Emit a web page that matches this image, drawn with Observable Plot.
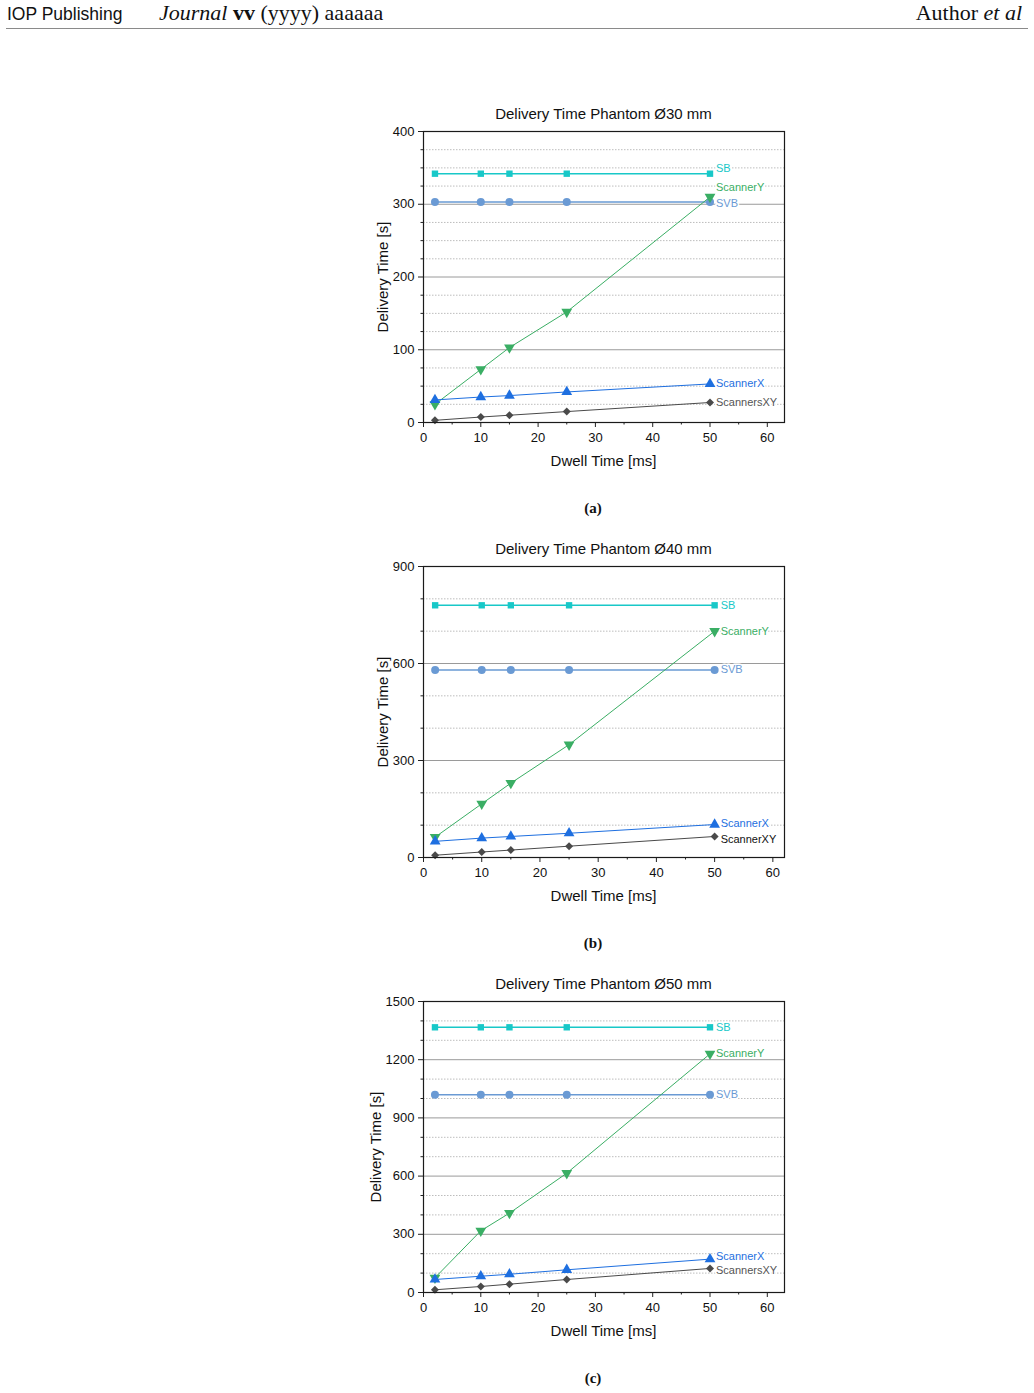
<!DOCTYPE html>
<html>
<head>
<meta charset="utf-8">
<script src="https://cdn.jsdelivr.net/npm/d3@7"></script>
<script src="https://cdn.jsdelivr.net/npm/@observablehq/plot@0.6"></script>
<style>
  html, body { margin: 0; padding: 0; background: #fff; }
  body { position: relative; width: 1034px; height: 1393px; overflow: hidden; font-family: "Liberation Sans", Arial, sans-serif; }
  .abs { position: absolute; white-space: nowrap; }
  .hdr-sans { font-family: "Liberation Sans", Arial, sans-serif; font-size: 17.5px; color: #111; }
  .hdr-serif { font-family: "Liberation Serif", "DejaVu Serif", serif; font-size: 22px; color: #111; }
  .rule { position: absolute; left: 6px; top: 28px; width: 1022px; height: 0; border-top: 1px solid #8a8a8a; }
  .title { font-size: 15px; color: #111; transform: translate(-50%, -50%); }
  .xlabel { font-size: 15px; color: #111; transform: translate(-50%, -50%); }
  .ylabel { font-size: 15px; color: #111; transform: translate(-50%, -50%) rotate(-90deg); }
  .caption { font-family: "Liberation Serif", "DejaVu Serif", serif; font-weight: bold; font-size: 15px; color: #111; transform: translate(-50%, -50%); }
  .chart { position: absolute; left: 360px; }
</style>
</head>
<body>
<div class="abs hdr-sans" style="left:7px; top:4px;">IOP Publishing</div>
<div class="abs hdr-serif" style="left:159px; top:0px;"><i>Journal</i> <b>vv</b> (yyyy) aaaaaa</div>
<div class="abs hdr-serif" style="right:12px; top:0px;">Author <i>et al</i></div>
<div class="rule"></div>
<script>
// Dwell times shared by all three phantoms [ms]
const dwell = [2, 10, 15, 25, 50];

// Phantom Ø30 mm, delivery times [s]
const sb30 = [342, 342, 342, 342, 342];
const svb30 = [303, 303, 303, 303, 303];
const scannerY30 = [25, 73, 103, 152, 310];
const scannerX30 = [31, 35, 37, 42, 53];
const scannersXY30 = [3, 7.5, 10, 15, 27.5];

// Phantom Ø40 mm, delivery times [s]
const sb40 = [780, 780, 780, 780, 780];
const svb40 = [580, 580, 580, 580, 580];
const scannerY40 = [63, 166, 230, 349, 700];
const scannerX40 = [50, 60, 65, 75, 102];
const scannerXY40 = [7, 17, 23, 35, 65];

// Phantom Ø50 mm, delivery times [s]
const sb50 = [1367, 1367, 1367, 1367, 1367];
const svb50 = [1019, 1019, 1019, 1019, 1019];
const scannerY50 = [76, 318, 409, 615, 1230];
const scannerX50 = [67, 84, 94, 117, 172];
const scannersXY50 = [14, 31, 43, 67, 124];

// Series names and axis texts
const names30 = ["SB", "SVB", "ScannerY", "ScannerX", "ScannersXY"];
const names40 = ["SB", "SVB", "ScannerY", "ScannerX", "ScannerXY"];
const names50 = ["SB", "SVB", "ScannerY", "ScannerX", "ScannersXY"];
const titles = ["Delivery Time Phantom Ø30 mm", "Delivery Time Phantom Ø40 mm", "Delivery Time Phantom Ø50 mm"];
const captions = ["(a)", "(b)", "(c)"];
const xLabel = "Dwell Time [ms]";
const yLabel = "Delivery Time [s]";
const xTicks = [0, 10, 20, 30, 40, 50, 60];
const xMinor = [5, 15, 25, 35, 45, 55];
const yTicks30 = [0, 100, 200, 300, 400];
const yTicks40 = [0, 300, 600, 900];
const yTicks50 = [0, 300, 600, 900, 1200, 1500];

// Downward-pointing triangle for the ScannerY markers
const sqrt3 = Math.sqrt(3);
const triangleDown = {
  draw(context, size) {
    const y = -Math.sqrt(size / (sqrt3 * 3));
    context.moveTo(0, -y * 2);
    context.lineTo(-sqrt3 * y, y);
    context.lineTo(sqrt3 * y, y);
    context.closePath();
  }
};

// Per-series style: colour, marker, marker radius, line width
const styles = [
  {color: "#18c8c8", symbol: "square", r: 3.6, width: 1.4, text: "#18c8c8"},
  {color: "#6a9ad4", symbol: "circle", r: 4, width: 1.4, text: "#6a9ad4"},
  {color: "#3aae64", symbol: triangleDown, r: 4, width: 1, text: "#3aae64"},
  {color: "#1e6fe0", symbol: "triangle", r: 4, width: 1, text: "#1e6fe0"},
  {color: "#4a4a4a", symbol: "diamond2", r: 3.6, width: 1, text: "#555"}
];

const charts = [
  {top: 100, xMax: 63, yMax: 400, yTicks: yTicks30, minorStep: 25, names: names30,
   series: [sb30, svb30, scannerY30, scannerX30, scannersXY30],
   labelDy: [-5, 1, -10, 0, 0], xyText: "#555"},
  {top: 535, xMax: 62, yMax: 900, yTicks: yTicks40, minorStep: 100, names: names40,
   series: [sb40, svb40, scannerY40, scannerX40, scannerXY40],
   labelDy: [0, 0, 0, -1, 3], xyText: "#111"},
  {top: 970, xMax: 63, yMax: 1500, yTicks: yTicks50, minorStep: 100, names: names50,
   series: [sb50, svb50, scannerY50, scannerX50, scannersXY50],
   labelDy: [0, 0, 0, -3, 2], xyText: "#555"}
];

const W = 440, H = 380, ML = 63, MR = 16, MT = 31, MB = 58;

charts.forEach((c, i) => {
  const yMinor = d3.range(c.minorStep, c.yMax, c.minorStep).filter(v => !c.yTicks.includes(v));
  const yGridMajor = c.yTicks.filter(v => v > 0 && v < c.yMax);

  const marks = [
    Plot.ruleY(yMinor, {stroke: "#bdbdbd", strokeWidth: 1, strokeDasharray: "1.5,1.5"}),
    Plot.ruleY(yGridMajor, {stroke: "#9a9a9a", strokeWidth: 1})
  ];

  c.series.forEach((values, k) => {
    const s = styles[k];
    const rows = dwell.map((x, j) => ({x, y: values[j]}));
    marks.push(Plot.line(rows, {x: "x", y: "y", stroke: s.color, strokeWidth: s.width}));
    marks.push(Plot.dot(rows, {x: "x", y: "y", symbol: s.symbol, r: s.r, fill: s.color, stroke: "none"}));
    const last = rows[rows.length - 1];
    marks.push(Plot.text([last], {
      x: "x", y: "y", text: () => c.names[k], dx: 6, dy: c.labelDy[k],
      textAnchor: "start", fontSize: 11, fill: k === 4 ? c.xyText : s.text,
      stroke: "white", strokeWidth: 3, paintOrder: "stroke"
    }));
  });

  marks.push(
    Plot.axisX({ticks: xTicks, tickSize: 5, tickPadding: 5, fontSize: 13, tickFormat: d => String(d), label: null, stroke: "#222", color: "#111"}),
    Plot.axisX({ticks: xMinor, tickSize: 2.5, tickFormat: () => "", label: null, stroke: "#222"}),
    Plot.axisY({ticks: c.yTicks, tickSize: 5, tickPadding: 4, fontSize: 13, tickFormat: d => String(d), label: null, stroke: "#222", color: "#111"}),
    Plot.axisY({ticks: yMinor, tickSize: 2.5, tickFormat: () => "", label: null, stroke: "#222"}),
    Plot.frame({stroke: "#1a1a1a", strokeWidth: 1.2})
  );

  const svg = Plot.plot({
    width: W, height: H,
    marginLeft: ML, marginRight: MR, marginTop: MT, marginBottom: MB,
    style: {fontFamily: "'Liberation Sans', Arial, sans-serif", background: "white", overflow: "visible"},
    x: {domain: [0, c.xMax]},
    y: {domain: [0, c.yMax]},
    marks
  });
  svg.classList.add("chart");
  svg.style.top = c.top + "px";
  document.body.appendChild(svg);

  const frameTop = c.top + MT, frameBottom = c.top + H - MB;
  const cx = 360 + ML + (W - ML - MR) / 2;
  const add = (cls, text, x, y) => {
    const d = document.createElement("div");
    d.className = "abs " + cls;
    d.textContent = text;
    d.style.left = x + "px";
    d.style.top = y + "px";
    document.body.appendChild(d);
  };
  add("title", titles[i], cx, frameTop - 18);
  add("xlabel", xLabel, cx, frameBottom + 38);
  add("ylabel", yLabel, i === 2 ? 375 : 382, (frameTop + frameBottom) / 2);
  add("caption", captions[i], 593, frameBottom + 86);
});
</script>
</body>
</html>
